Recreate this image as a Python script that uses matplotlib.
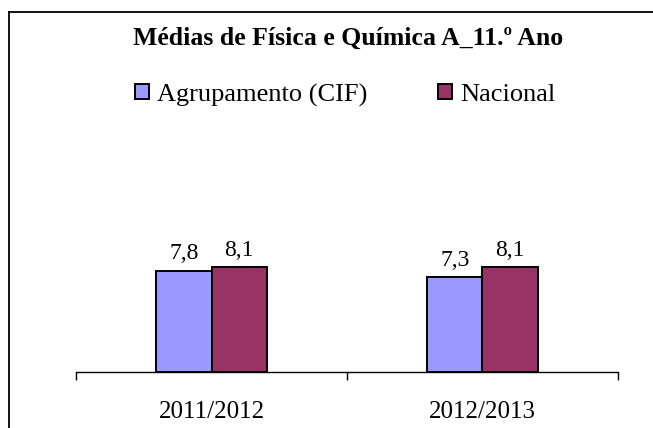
import matplotlib.pyplot as plt
from matplotlib.lines import Line2D
import numpy as np

plt.rcParams['font.family'] = ['Liberation Serif', 'DejaVu Serif']

# data
anos = ['2011/2012', '2012/2013']
agrupamento = [7.8, 7.3]
nacional = [8.1, 8.1]
series_names = ['Agrupamento (CIF)', 'Nacional']
titulo = 'Médias de Física e Química A_11.º Ano'

W, H = 653, 428
fig = plt.figure(figsize=(W / 100, H / 100), dpi=100)

# outer chart frame (only left and top edges are visible)
fig.add_artist(Line2D([9 / W, 9 / W], [0, 1 - 12 / H], transform=fig.transFigure,
                      color='black', lw=1.3))
fig.add_artist(Line2D([9 / W, 1], [1 - 12 / H, 1 - 12 / H], transform=fig.transFigure,
                      color='black', lw=1.3))

# plot area in pixels
left, right, base, top = 76, 618, 372, 242
ax = fig.add_axes([left / W, 1 - base / H, (right - left) / W, (base - top) / H])

x = np.arange(len(anos))
w = 0.203
b1 = ax.bar(x - w / 2, agrupamento, w, color='#9999FF', edgecolor='black', lw=1.4,
            label=series_names[0])
b2 = ax.bar(x + w / 2, nacional, w, color='#993366', edgecolor='black', lw=1.4,
            label=series_names[1])

# value labels, comma as decimal separator
for xs, vals in ((x - w / 2, agrupamento), (x + w / 2, nacional)):
    for xi, v in zip(xs, vals):
        ax.annotate(f'{v:.1f}'.replace('.', ','), (xi, v), xytext=(0, 8),
                    textcoords='offset points', ha='center', va='baseline', fontsize=17)

ax.set_xlim(-0.5, len(anos) - 0.5)
ax.set_ylim(0, 10)
for s in ('left', 'right', 'top'):
    ax.spines[s].set_visible(False)
ax.spines['bottom'].set_linewidth(1.0)
ax.set_yticks([])
ax.set_xticks(x)
ax.set_xticklabels(anos, fontsize=18)
ax.tick_params(axis='x', which='major', length=0, pad=21)
ax.set_xticks(np.arange(len(anos) + 1) - 0.5, minor=True)
ax.tick_params(axis='x', which='minor', length=6, width=1.0, direction='out')

fig.text(348.5 / W, 1 - 45 / H, titulo, ha='center', va='baseline',
         fontsize=18.5, fontweight='bold')

fig.legend(handles=[b1, b2], loc='center', bbox_to_anchor=(345 / W, 1 - 95 / H), ncol=2,
           frameon=False, fontsize=19, handlelength=0.52, handleheight=0.52,
           handletextpad=0.3, columnspacing=2.7, borderaxespad=0, borderpad=0)

fig.savefig('out.png', dpi=100)
